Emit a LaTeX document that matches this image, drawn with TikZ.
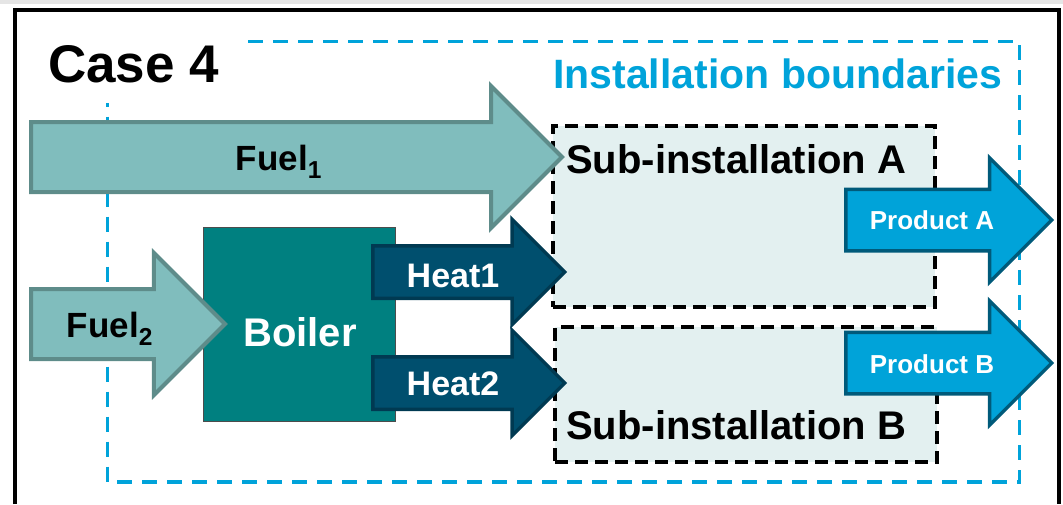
\documentclass[tikz,border=0pt]{standalone}
\usepackage{fontspec}
\setmainfont{Liberation Sans}
\usetikzlibrary{shapes.arrows}

\definecolor{fuelfill}{HTML}{80BDBD}
\definecolor{fueldraw}{HTML}{5E8C8A}
\definecolor{boilerfill}{HTML}{008080}
\definecolor{heatfill}{HTML}{004F6E}
\definecolor{heatdraw}{HTML}{003A52}
\definecolor{prodfill}{HTML}{00A3D9}
\definecolor{proddraw}{HTML}{005A7A}
\definecolor{subfill}{HTML}{E3F0F0}
\definecolor{boundblue}{HTML}{00A3DA}

\begin{document}
\begin{tikzpicture}[x=1pt,y=-1pt,
    block arrow/.style={single arrow,single arrow tip angle=90,inner xsep=0pt,anchor=tail},
    fuel arrow/.style={block arrow,fill=fuelfill,draw=fueldraw,line width=4pt,inner ysep=33pt,
                       minimum height=#1,minimum width=139pt,single arrow head extend=36pt},
    heat arrow/.style={block arrow,fill=heatfill,draw=heatdraw,line width=3.5pt,inner ysep=24.5pt,
                       minimum height=192pt,minimum width=102pt,single arrow head extend=26.5pt},
    product arrow/.style={block arrow,fill=prodfill,draw=proddraw,line width=3.5pt,inner ysep=29pt,
                       minimum height=206pt,minimum width=121pt,single arrow head extend=31.5pt},
    sub box/.style={draw=black,fill=subfill,line width=4pt,dash pattern=on 13pt off 7pt,
                    anchor=north west,minimum width=382pt},
    bold text/.style={inner sep=0pt,font=\fontsize{#1}{#1}\selectfont\bfseries}]

  \useasboundingbox (0,0) rectangle (1063,504);
  \fill[black!10] (0,0) rectangle (1063,3.5);
  \draw[line width=3.5pt] (15,504) -- (15,10) -- (1059,10) -- (1059,504);

  \draw[boundblue,line width=3.5pt,dash pattern=on 15pt off 10pt] (107.5,41.5) rectangle (1019.5,482);
  \node[bold text=53pt,fill=white,inner sep=20pt,anchor=base west] (case) at (28,82) {Case 4};
  \node[bold text=41pt,text=boundblue,anchor=base west] (bound) at (553,88) {Installation boundaries};

  \node[sub box,minimum height=181pt] (subA) at (551,124) {};
  \node[sub box,minimum height=135pt] (subB) at (553,325) {};
  \node[bold text=40pt,anchor=base west] (subA text) at (566,173) {Sub-installation A};
  \node[bold text=40pt,anchor=base west] (subB text) at (566,439) {Sub-installation B};

  \node[draw=black!70,line width=1pt,fill=boilerfill,minimum width=192pt,minimum height=194pt,
        anchor=north west] (boiler) at (203,227) {};
  \node[bold text=40pt,text=white,anchor=base] (boiler text) at (300,346) {Boiler};

  \node[fuel arrow=531pt] (fuel1) at (29,157) {};
  \node[fuel arrow=194pt] (fuel2) at (29,324) {};
  \node[heat arrow] (heat1) at (371,272) {};
  \node[heat arrow] (heat2) at (371,383) {};
  \node[product arrow] (prodA) at (844,220) {};
  \node[product arrow] (prodB) at (844,363) {};

  \node[bold text=35pt,anchor=base] (fuel1 text) at (279,170) {Fuel\textsubscript{1}};
  \node[bold text=35pt,anchor=base] (fuel2 text) at (110,337) {Fuel\textsubscript{2}};
  \node[bold text=34pt,text=white,anchor=base] (heat1 text) at (453,287) {Heat1};
  \node[bold text=34pt,text=white,anchor=base] (heat2 text) at (453,395) {Heat2};
  \node[bold text=26pt,text=white,anchor=base] (prodA text) at (932,229) {Product A};
  \node[bold text=26pt,text=white,anchor=base] (prodB text) at (932,373) {Product B};
\end{tikzpicture}
\end{document}
